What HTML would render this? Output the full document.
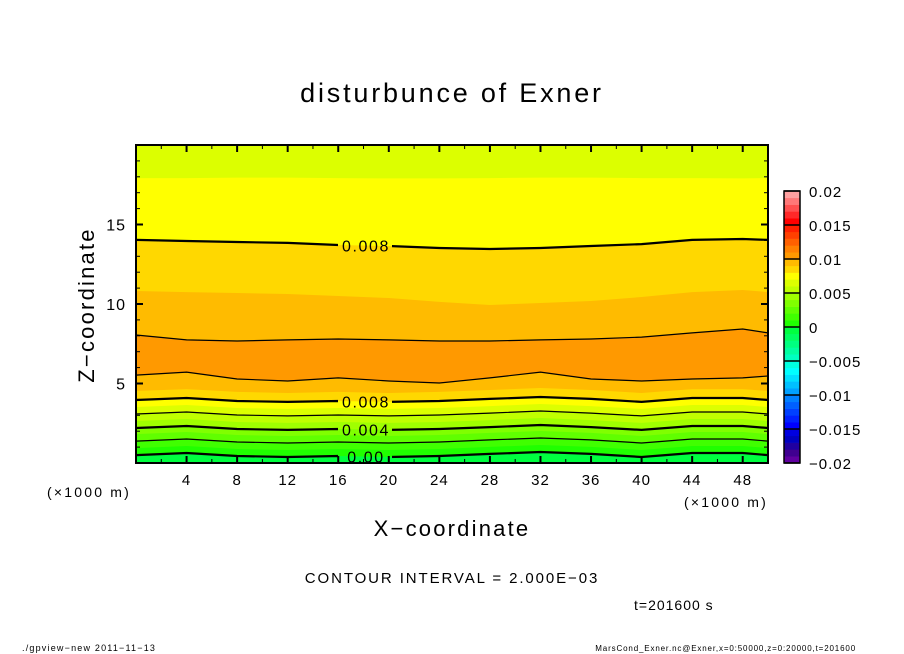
<!DOCTYPE html>
<html><head><meta charset="utf-8"><style>
html,body{margin:0;padding:0;background:#fff;}
svg{display:block;font-family:"Liberation Sans",sans-serif;}
</style></head><body>
<svg id="chart" width="904" height="654" viewBox="0 0 904 654" xmlns="http://www.w3.org/2000/svg">
<text x="452" y="102" font-size="27" letter-spacing="2.8" text-anchor="middle">disturbunce of Exner</text>
<text transform="translate(94,305) rotate(-90)" font-size="22" letter-spacing="2.2" text-anchor="middle">Z−coordinate</text>
<text x="452" y="536" font-size="22" letter-spacing="2.2" text-anchor="middle">X−coordinate</text>
<text x="47" y="497" font-size="14" letter-spacing="2.2">(×1000 m)</text>
<text x="684" y="507" font-size="14" letter-spacing="2.2">(×1000 m)</text>
<text x="452" y="583" font-size="15" letter-spacing="1.9" text-anchor="middle">CONTOUR INTERVAL = 2.000E−03</text>
<text x="634" y="610" font-size="14" letter-spacing="1">t=201600 s</text>
<text x="22" y="651" font-size="9" letter-spacing="1.2">./gpview−new   2011−11−13</text>
<text x="856" y="651" font-size="8" letter-spacing="0.85" text-anchor="end">MarsCond_Exner.nc@Exner,x=0:50000,z=0:20000,t=201600</text>
<g id="plot"></g>
<g id="cbar"></g>
</svg>
<script>
const xs = [0,4,8,12,16,20,24,28,32,36,40,44,48,50];
// lower boundaries (level: z in km at each xs)
const lowLevels = [0.000,0.001,0.002,0.003,0.004,0.005,0.006,0.007,0.008,0.009,0.010];
const lowZ = [
 [0.50,0.63,0.44,0.38,0.44,0.38,0.44,0.57,0.69,0.57,0.38,0.63,0.63,0.50],
 [0.94,1.07,0.88,0.82,0.88,0.82,0.88,1.01,1.13,1.01,0.82,1.07,1.07,0.94],
 [1.38,1.51,1.32,1.26,1.32,1.26,1.32,1.45,1.57,1.45,1.26,1.51,1.51,1.38],
 [1.82,1.95,1.76,1.70,1.76,1.70,1.76,1.89,2.01,1.89,1.70,1.95,1.95,1.82],
 [2.20,2.33,2.14,2.08,2.14,2.08,2.14,2.26,2.39,2.26,2.08,2.33,2.33,2.20],
 [2.64,2.77,2.58,2.52,2.58,2.52,2.58,2.70,2.83,2.70,2.52,2.77,2.77,2.64],
 [3.08,3.21,3.02,2.96,3.02,2.96,3.02,3.14,3.27,3.14,2.96,3.21,3.21,3.08],
 [3.52,3.65,3.46,3.40,3.46,3.40,3.46,3.58,3.71,3.58,3.40,3.65,3.65,3.52],
 [3.96,4.09,3.90,3.84,3.90,3.84,3.90,4.03,4.15,4.03,3.84,4.09,4.09,3.96],
 [4.53,4.65,4.47,4.40,4.47,4.40,4.47,4.59,4.72,4.59,4.40,4.65,4.65,4.53],
 [5.53,5.72,5.28,5.16,5.35,5.16,5.03,5.35,5.72,5.28,5.16,5.28,5.35,5.47]
];
// upper boundaries (field decreasing with height)
const upLevels = [0.010,0.009,0.008,0.007];
const upZ = [
 [8.05,7.74,7.67,7.74,7.80,7.74,7.67,7.67,7.74,7.80,7.92,8.18,8.43,8.18],
 [10.82,10.75,10.69,10.63,10.50,10.38,10.13,9.94,10.06,10.19,10.44,10.75,10.88,10.75],
 [14.03,13.96,13.90,13.84,13.71,13.65,13.52,13.46,13.52,13.65,13.77,14.03,14.09,14.03],
 [17.92,17.92,17.95,17.95,17.92,17.90,17.90,17.92,17.95,17.95,17.92,17.92,17.90,17.92]
];
const cbLevels = [-0.02,-0.015,-0.01,-0.005,0,0.005,0.01,0.015,0.02];
const cbLabels = ["−0.02","−0.015","−0.01","−0.005","0","0.005","0.01","0.015","0.02"];
const palette = ["#6000a0","#400090","#2000a0","#0000c0","#0000e0","#0000ff","#0020ff","#0040ff","#0060ff","#0080ff",
 "#00a0ff","#00c0ff","#00e0ff","#00ffff","#00ffe0","#00ffc0","#00ffa0","#00ff80","#00ff60","#00ff40",
 "#20ff00","#40ff00","#60ff00","#80ff00","#a0ff00","#c0ff00","#dcff00","#ffff00","#ffd800","#ffbb00",
 "#ff9900","#ff8000","#ff6000","#ff4000","#ff2000","#ff0000","#ff2828","#ff5050","#ff7878","#ffa0a0"];
const xTicks = [4,8,12,16,20,24,28,32,36,40,44,48];
const yTicks = [5,10,15];

const NS="http://www.w3.org/2000/svg";
const X0=136,X1=768,Y0=463,Y1=145;
const sx = v => X0 + v/50*(X1-X0);
const sy = v => Y0 - v/20*(Y0-Y1);
const colorFor = lev => palette[Math.round((lev+0.02)/0.001)];
function mk(tag, attrs, parent){const e=document.createElementNS(NS,tag);for(const k in attrs)e.setAttribute(k,attrs[k]);parent.appendChild(e);return e;}
const plot=document.getElementById('plot');
const cbar=document.getElementById('cbar');
const lineStr = zs => xs.map((x,i)=>sx(x).toFixed(1)+','+sy(zs[i]).toFixed(1)).join(' L');
const areaAbove = zs => 'M'+lineStr(zs)+` L${X1},${Y1} L${X0},${Y1} Z`;

let r=mk('rect',{x:X0,y:Y1,width:X1-X0,height:Y0-Y1,fill:colorFor(-0.001)},plot);


lowLevels.forEach((lev,i)=>{
  const p=mk('path',{d:areaAbove(lowZ[i]),fill:colorFor(lev)},plot);
  
  
});
upLevels.forEach((lev,i)=>{
  const p=mk('path',{d:areaAbove(upZ[i]),fill:colorFor(lev-0.001)},plot);
  
  
});
const defs=mk('defs',{},plot);
const cp=mk('clipPath',{id:'gap'},defs);
mk('path',{d:`M0,0 H904 V654 H0 Z M338,${Y1} H392 V${Y0} H338 Z`,'clip-rule':'evenodd'},cp);
function contour(zs,lev,labeled){
  const bold = Math.round(lev*1000)%4===0;
  const p=mk('path',{d:'M'+lineStr(zs),fill:'none',stroke:'#000','stroke-width':bold?2.2:1.2},plot);
  if(labeled){p.setAttribute('clip-path','url(#gap)');
    const z=(zs[4]+zs[5])/2;
    const t=mk('text',{x:366,y:sy(z)+6,'font-size':16,'letter-spacing':1.6,'text-anchor':'middle'},plot);
    t.textContent=lev===0?'0.00':lev.toFixed(3);
    
    }
  
  
}
lowLevels.forEach((lev,i)=>{ if(Math.round(lev*1000)%2===0) contour(lowZ[i],lev,[0,0.004,0.008].includes(lev)); });
upLevels.forEach((lev,i)=>{ if(Math.round(lev*1000)%2===0) contour(upZ[i],lev,lev===0.008); });
let fr=mk('rect',{x:X0,y:Y1,width:X1-X0,height:Y0-Y1,fill:'none',stroke:'#000','stroke-width':2},plot);


for(let v=2;v<50;v+=2){
  const major=v%4===0, L=major?7:4;
  mk('line',{x1:sx(v),x2:sx(v),y1:Y0,y2:Y0-L,stroke:'#000','stroke-width':major?2:1},plot);
  mk('line',{x1:sx(v),x2:sx(v),y1:Y1,y2:Y1+L,stroke:'#000','stroke-width':major?2:1},plot);
}
for(let v=1;v<20;v++){
  const major=v%5===0, L=major?7:4;
  mk('line',{x1:X0,x2:X0+L,y1:sy(v),y2:sy(v),stroke:'#000','stroke-width':major?2:1},plot);
  mk('line',{x1:X1,x2:X1-L,y1:sy(v),y2:sy(v),stroke:'#000','stroke-width':major?2:1},plot);
}
xTicks.forEach(v=>{const t=mk('text',{x:sx(v),y:485,'font-size':15,'letter-spacing':1,'text-anchor':'middle'},plot);t.textContent=v;
  
  });
yTicks.forEach(v=>{const t=mk('text',{x:126,y:sy(v)+6,'font-size':16,'letter-spacing':1,'text-anchor':'end'},plot);t.textContent=v;
  
  });
const CX=784,CW=16,CT=191,CB=463;
const cy = v => CB - (v+0.02)/0.04*(CB-CT);
palette.forEach((c,i)=>{
  const lo=-0.02+i*0.001;
  const rr=mk('rect',{x:CX,y:cy(lo+0.001),width:CW,height:cy(lo)-cy(lo+0.001)+0.3,fill:c},cbar);
  
  
});
cbLevels.forEach((v,i)=>{
  mk('line',{x1:CX,x2:CX+CW,y1:cy(v),y2:cy(v),stroke:'#000','stroke-width':1.5},cbar);
  const t=mk('text',{x:809,y:cy(v)+6,'font-size':15,'letter-spacing':1},cbar);t.textContent=cbLabels[i];
  
  
});
mk('rect',{x:CX,y:CT,width:CW,height:CB-CT,fill:'none',stroke:'#000','stroke-width':1.5},cbar);
</script>
</body></html>
